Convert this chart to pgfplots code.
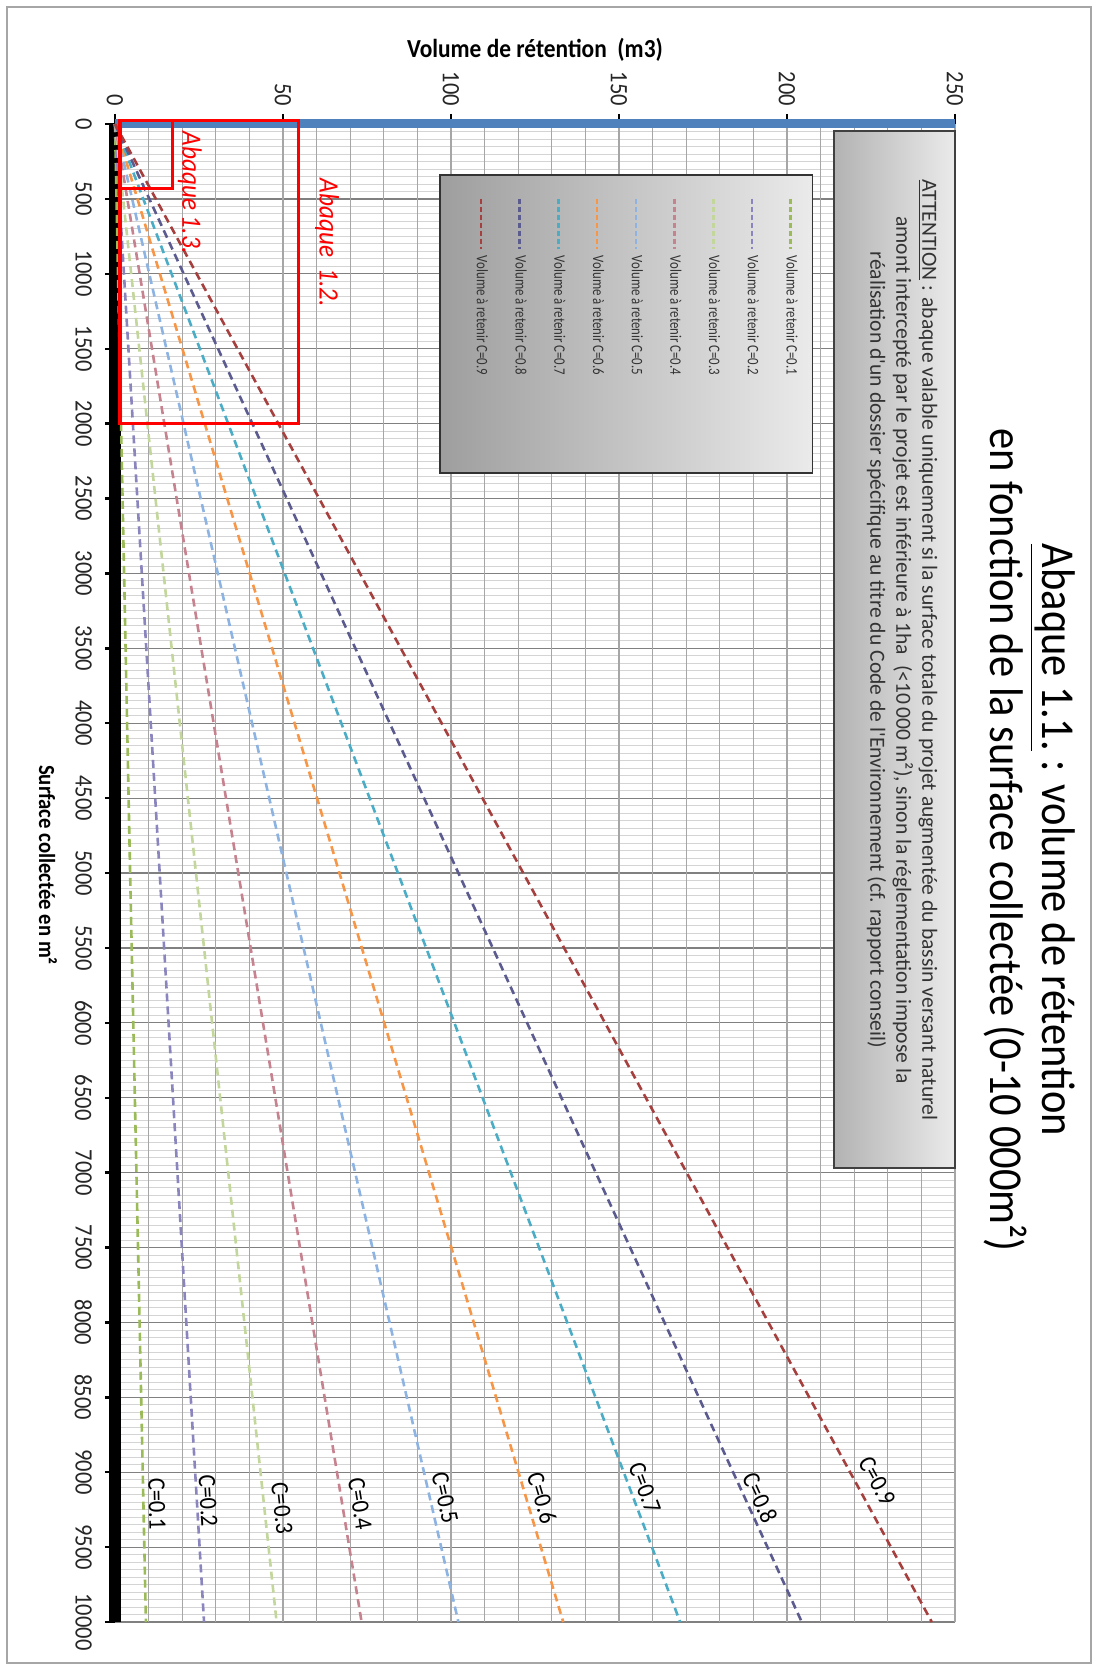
\documentclass[border=0pt]{standalone}
\usepackage{pgfplots}
\pgfplotsset{compat=1.18}
\usepackage{fontspec}
\setmainfont{Carlito}[FakeStretch=0.9]
\newfontfamily\plainfont{Carlito}
\newfontfamily\legfont{Carlito}[FakeStretch=0.8]
\definecolor{c1}{HTML}{9BBB59}
\definecolor{c2}{HTML}{8B85BE}
\definecolor{c3}{HTML}{C3D69B}
\definecolor{c4}{HTML}{C6838F}
\definecolor{c5}{HTML}{8DB3E2}
\definecolor{c6}{HTML}{F79646}
\definecolor{c7}{HTML}{4BACC6}
\definecolor{c8}{HTML}{5B5B8F}
\definecolor{c9}{HTML}{A5403E}
\definecolor{xlblue}{HTML}{4F81BD}
\begin{document}
\begin{tikzpicture}
\begin{scope}[rotate=-90, transform shape]
\path[use as bounding box] (-62pt,-57.5pt) rectangle (773pt,491.5pt);
\draw[black!35, line width=0.6pt] (-58.5pt,-54pt) rectangle (769.5pt,488pt);
\begin{axis}[
  at={(0pt,0pt)}, anchor=south west,
  width=749pt, height=420pt, scale only axis,
  xmin=0, xmax=10000, ymin=0, ymax=250,
  clip=false,
  axis line style={draw=none},
  xtick={0,500,...,10000},
  ytick={0,50,...,250},
  minor x tick num=9,
  tick pos=left, tick align=outside,
  major tick length=5pt, minor tick length=0pt,
  tick style={black, line width=1.2pt},
  xmajorgrids=true, xminorgrids=true, ymajorgrids=false,
  major grid style={color=black!50, line width=0.6pt},
  minor grid style={color=black!17, line width=0.4pt},
  extra y ticks={0,10,...,250},
  extra y tick style={grid=major, major grid style={color=black!35, line width=0.6pt}, major tick length=0pt, yticklabel={}},
  scaled x ticks=false, scaled y ticks=false,
  /pgf/number format/.cd, 1000 sep={}, assume math mode=true, /pgfplots/.cd,
  ticklabel style={font=\fontsize{12.5}{14}\selectfont, text=black!85},
  xticklabel style={anchor=north, yshift=-3pt},
  yticklabel style={anchor=east, xshift=-0.5pt},
  xlabel={Surface collectée en m²},
  xlabel style={at={(axis description cs:0.4947,-0.0798)}, anchor=center, font=\bfseries\fontsize{11.5}{13}\selectfont},
  ylabel={Volume de rétention\ \ (m3)},
  ylabel style={at={(axis description cs:-0.0494,0.5)}, anchor=center, font=\bfseries\fontsize{13}{15}\selectfont},
  legend style={at={(axis description cs:0.0487,0.818)}, anchor=north west, draw=none, fill=none, inner sep=0pt, font=\legfont\fontsize{8}{9}\selectfont, text=black!80, row sep=8.3pt, column sep=1pt},
  legend cell align=left,
  legend image code/.code={\draw[#1, dash pattern=on 2.5pt off 1.5pt] (0pt,0pt) -- (25pt,0pt);},
]
\addplot[black, line width=6pt, forget plot] coordinates {(0,0) (10000,0)};
\addplot[xlblue, line width=4.5pt, forget plot] coordinates {(0,0) (0,250)};

\addplot[c1, line width=1.3pt, dash pattern=on 4pt off 2.5pt] coordinates {(0,0) (5000,4.5) (10000,9.2)};
\addlegendentry{Volume à retenir C=0.1}
\addplot[c2, line width=1.3pt, dash pattern=on 4pt off 2.5pt] coordinates {(0,0) (5000,13.3) (10000,26.5)};
\addlegendentry{Volume à retenir C=0.2}
\addplot[c3, line width=1.3pt, dash pattern=on 4pt off 2.5pt] coordinates {(0,0) (5000,24.1) (10000,48.1)};
\addlegendentry{Volume à retenir C=0.3}
\addplot[c4, line width=1.3pt, dash pattern=on 4pt off 2.5pt] coordinates {(0,0) (5000,36.7) (10000,73.4)};
\addlegendentry{Volume à retenir C=0.4}
\addplot[c5, line width=1.3pt, dash pattern=on 4pt off 2.5pt] coordinates {(0,0) (5000,51.0) (10000,102.2)};
\addlegendentry{Volume à retenir C=0.5}
\addplot[c6, line width=1.3pt, dash pattern=on 4pt off 2.5pt] coordinates {(0,0) (5000,66.8) (10000,133.4)};
\addlegendentry{Volume à retenir C=0.6}
\addplot[c7, line width=1.3pt, dash pattern=on 4pt off 2.5pt] coordinates {(0,0) (5000,84.2) (10000,168.2)};
\addlegendentry{Volume à retenir C=0.7}
\addplot[c8, line width=1.3pt, dash pattern=on 4pt off 2.5pt] coordinates {(0,0) (5000,102.2) (10000,204.4)};
\addlegendentry{Volume à retenir C=0.8}
\addplot[c9, line width=1.3pt, dash pattern=on 4pt off 2.5pt] coordinates {(0,0) (5000,121.5) (10000,243.1)};
\addlegendentry{Volume à retenir C=0.9}

% red frames of the sub-abaques
\draw[red, line width=1.6pt] (axis cs:-25,1.5) rectangle (axis cs:2000,54.5);
\draw[red, line width=1.6pt] (axis cs:-25,1.5) rectangle (axis cs:430,17);
\node[text=red, font=\itshape\fontsize{14}{16}\selectfont] at (axis cs:461,22.3) {Abaque 1.3.};
\node[text=red, font=\itshape\fontsize{14}{16}\selectfont] at (axis cs:794,63.1) {Abaque\ \ 1.2.};

% curve labels
\begin{scope}[font=\fontsize{12.5}{14}\selectfont]
\node[rotate=1.2] at (axis cs:9212,12.5) {C=0.1};
\node[rotate=3.4] at (axis cs:9192,27.7) {C=0.2};
\node[rotate=6.2] at (axis cs:9238,49.7) {C=0.3};
\node[rotate=9.4] at (axis cs:9212,72.9) {C=0.4};
\node[rotate=12.9] at (axis cs:9172,98.2) {C=0.5};
\node[rotate=16.7] at (axis cs:9172,127.1) {C=0.6};
\node[rotate=20.7] at (axis cs:9105,157.7) {C=0.7};
\node[rotate=24.6] at (axis cs:9172,192) {C=0.8};
\node[rotate=28.6] at (axis cs:9058,226.8) {C=0.9};
\end{scope}

% legend background
\shade[top color=black!8, bottom color=black!38, draw=black!80, line width=0.6pt] (axis cs:340,96.7) rectangle (axis cs:2330,207.7);
\end{axis}

% warning box
\shade[left color=black!30, right color=black!8, draw=black!75, line width=0.8pt] (3.5pt,359.5pt) rectangle (522pt,420pt);
\node[align=center, font=\plainfont\fontsize{10.8}{13}\selectfont, text=black!80] at (263pt,393.5pt)
 {\underline{ATTENTION} : abaque valable uniquement si la surface totale du projet augmentée du bassin versant naturel\\
  amont intercepté par le projet est inférieure à 1ha\ \ (<10\,000 m²), sinon la réglementation impose la\\
  réalisation d'un dossier spécifique au titre du Code de l'Environnement (cf. rapport conseil)};

% title
\node[anchor=base, font=\fontsize{23.6}{28}\selectfont] at (358pt,463.5pt) {\underline{Abaque 1.1.} : volume de rétention};
\node[anchor=base, font=\fontsize{23.6}{28}\selectfont] at (358pt,437.5pt) {en fonction de la surface collectée (0-10 000m²)};
\end{scope}
\end{tikzpicture}
\end{document}
